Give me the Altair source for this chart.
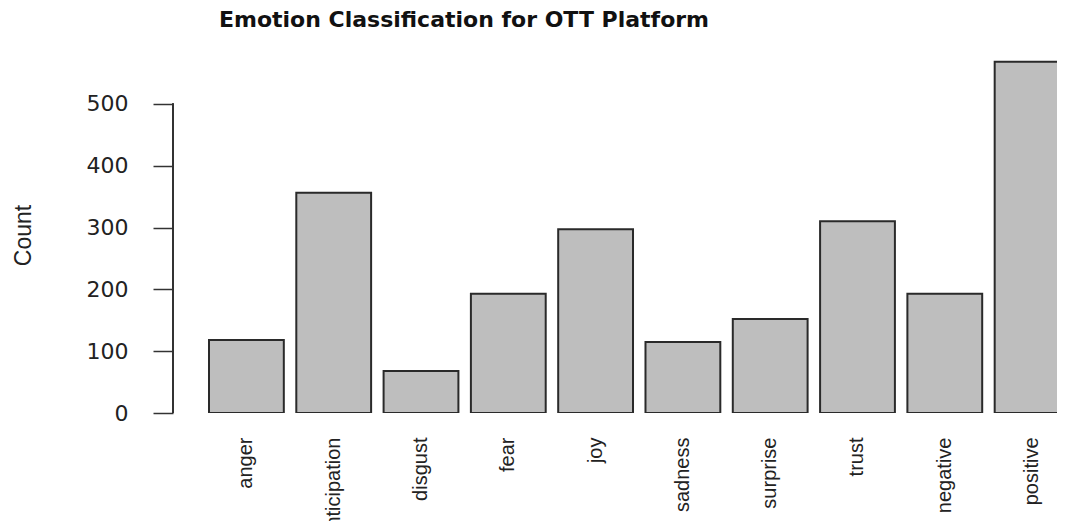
import altair as alt
import pandas as pd

emotions = ["anger", "anticipation", "disgust", "fear", "joy",
            "sadness", "surprise", "trust", "negative", "positive"]
counts = [118, 356, 68, 193, 297, 115, 152, 310, 193, 568]
y_ticks = [0, 100, 200, 300, 400, 500]

df = pd.DataFrame({"emotion": emotions, "count": counts})

x_enc = alt.X(
    "emotion:N", sort=emotions, title=None,
    scale=alt.Scale(range=[36, 896.5], paddingInner=0.143, paddingOuter=0,
                    round=False),
    axis=alt.Axis(domain=False, ticks=False, tickSize=0, labelAngle=270,
                  labelAlign="right", labelBaseline="middle", labelPadding=24,
                  labelFont="Liberation Sans", labelFontSize=20,
                  labelColor="#222222", labelOverlap=False, labelLimit=300),
)
y_scale = alt.Scale(domain=[0, 600], nice=False, zero=True)

bars = alt.Chart(df).mark_bar(
    fill="#bebebe", stroke="#2a2a2a", strokeWidth=2, clip=True
).encode(
    x=x_enc,
    y=alt.Y("count:Q", scale=y_scale,
            axis=alt.Axis(values=y_ticks, domain=False, grid=False,
                          tickSize=20, tickColor="#333333", tickWidth=1.5,
                          labelPadding=25, labelFont="DejaVu Sans",
                          labelFontSize=22, labelColor="#222222",
                          title="Count", titleFont="Liberation Sans",
                          titleFontSize=23, titleFontWeight="normal",
                          titleColor="#222222", titleAngle=270,
                          titleX=-150, titleY=193, titleAlign="center",
                          titleBaseline="middle")),
)

axis_line = alt.Chart(df).mark_rule(color="#333333", strokeWidth=1.5).encode(
    x=alt.value(0),
    y=alt.datum(y_ticks[0], scale=y_scale),
    y2=alt.datum(y_ticks[-1]),
)

chart = alt.layer(bars, axis_line).properties(
    width=884, height=371,
    background="white",
    title=alt.TitleParams(
        "Emotion Classification for OTT Platform",
        font="DejaVu Sans", fontSize=22, fontWeight="bold", color="#111111",
        anchor="middle", frame="group", dx=-151, offset=10,
    ),
    autosize=alt.AutoSizeParams(type="none"),
    padding={"left": 165, "top": 34, "right": 0, "bottom": 108},
).configure_view(stroke="transparent", strokeWidth=0)

chart.save("out.html", embed_options={"renderer": "svg", "actions": False})
